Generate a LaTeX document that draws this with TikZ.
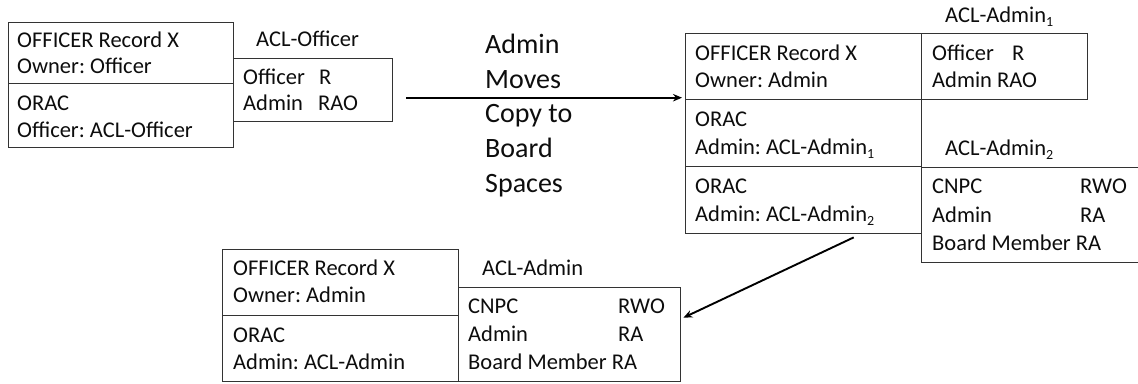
\documentclass[tikz,border=0pt]{standalone}
\usepackage{fontspec}
\setmainfont{Carlito}
\usetikzlibrary{arrows.meta}
\definecolor{linec}{HTML}{333333}
\definecolor{txtc}{HTML}{0D0D0D}
\frenchspacing
\newcommand\idx[1]{\raisebox{-4pt}{\fontsize{14}{14}\selectfont #1}}
\tikzset{
  box/.style={draw=linec, line width=1.4pt, inner sep=0pt, anchor=north west},
  txt/.style={anchor=base west, inner sep=0pt, text=txtc, font=\fontsize{22.5}{27}\selectfont},
  bigtxt/.style={anchor=base west, inner sep=0pt, text=txtc, font=\fontsize{28}{34}\selectfont},
  arr/.style={draw=black, line width=1.9pt, -{Stealth[length=9pt,width=7.5pt]}}
}
\begin{document}
\begin{tikzpicture}[x=1pt,y=-1pt]
\useasboundingbox (0,0) rectangle (1138,383);
\clip (0,0) rectangle (1138,383);
\fill[white] (0,0) rectangle (1138,383);

% ---- original record and its ACL
\node[box, minimum width=225pt, minimum height=61pt] (rec1a) at (8,22) {};
\node[box, minimum width=225pt, minimum height=64pt] (rec1b) at (8,83) {};
\node[box, minimum width=159pt, minimum height=63pt] (aclOff) at (233,58) {};
\node[txt] (t1a) at (17,47) {OFFICER Record X};
\node[txt] (t1b) at (17,73) {Owner: Officer};
\node[txt] (t1c) at (17,110) {ORAC};
\node[txt] (t1d) at (17,137) {Officer: ACL-Officer};
\node[txt] (l1) at (256,46) {ACL-Officer};
\node[txt] (a1a) at (243,84) {Officer};
\node[txt] (a1b) at (319,84) {R};
\node[txt] (a1c) at (243,110) {Admin};
\node[txt] (a1d) at (318,110) {RAO};

% ---- caption of the move
\node[bigtxt] (m1) at (485,53) {Admin};
\node[bigtxt] (m2) at (485,88) {Moves};
\node[bigtxt] (m3) at (485,122) {Copy to};
\node[bigtxt] (m4) at (485,157) {Board};
\node[bigtxt] (m5) at (485,192) {Spaces};

% ---- record after the move, with two ACLs
\node[box, minimum width=236pt, minimum height=66pt] (rec2a) at (685,33) {};
\node[box, minimum width=236pt, minimum height=67pt] (rec2b) at (685,99) {};
\node[box, minimum width=236pt, minimum height=67pt] (rec2c) at (685,166) {};
\node[box, minimum width=166pt, minimum height=66pt] (acl1) at (921,33) {};
\node[box, minimum width=240pt, minimum height=95pt] (acl2) at (921,167) {};
\node[txt] (t2a) at (695,60) {OFFICER Record X};
\node[txt] (t2b) at (695,87) {Owner: Admin};
\node[txt] (t2c) at (695,126) {ORAC};
\node[txt] (t2d) at (695,154) {Admin: ACL-Admin\idx{1}};
\node[txt] (t2e) at (695,193) {ORAC};
\node[txt] (t2f) at (695,221) {Admin: ACL-Admin\idx{2}};
\node[txt] (l2a) at (945,22) {ACL-Admin\idx{1}};
\node[txt] (l2b) at (945,155) {ACL-Admin\idx{2}};
\node[txt] (b1a) at (932,60) {Officer};
\node[txt] (b1b) at (1012,60) {R};
\node[txt] (b1c) at (932,87) {Admin RAO};
\node[txt] (b2a) at (932,193) {CNPC};
\node[txt] (b2b) at (1080,193) {RWO};
\node[txt] (b2c) at (932,222) {Admin};
\node[txt] (b2d) at (1080,222) {RA};
\node[txt] (b2e) at (932,250) {Board Member RA};

% ---- copy in the board space
\node[box, minimum width=236pt, minimum height=66pt] (rec3a) at (222,249) {};
\node[box, minimum width=236pt, minimum height=66pt] (rec3b) at (222,315) {};
\node[box, minimum width=222pt, minimum height=94pt] (aclAdm) at (458,287) {};
\node[txt] (t3a) at (233,275) {OFFICER Record X};
\node[txt] (t3b) at (233,302) {Owner: Admin};
\node[txt] (t3c) at (233,342) {ORAC};
\node[txt] (t3d) at (233,369) {Admin: ACL-Admin};
\node[txt] (l3) at (482,275) {ACL-Admin};
\node[txt] (c3a) at (468,313) {CNPC};
\node[txt] (c3b) at (618,313) {RWO};
\node[txt] (c3c) at (468,341) {Admin};
\node[txt] (c3d) at (618,341) {RA};
\node[txt] (c3e) at (468,369) {Board Member RA};

% ---- arrows
\draw[arr] ([xshift=13pt,yshift=-7.5pt]aclOff.east) -- ([xshift=-3pt,yshift=-31pt]rec2a.west);
\draw[arr] ([xshift=50pt,yshift=-3pt]rec2c.south) -- ([xshift=2pt,yshift=17pt]aclAdm.east);
\end{tikzpicture}
\end{document}
